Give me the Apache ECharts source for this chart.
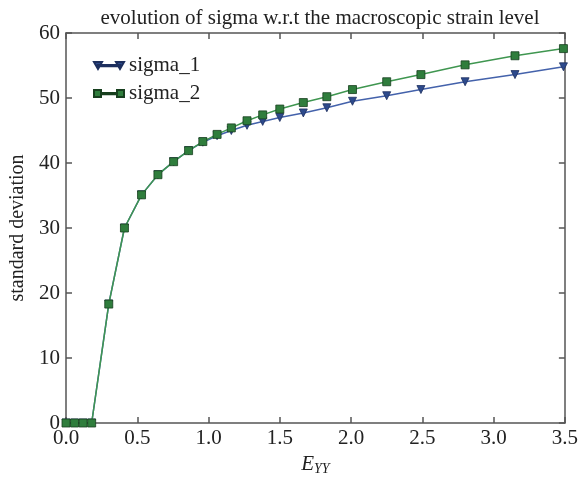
<!DOCTYPE html>
<html>
<head>
<meta charset="utf-8">
<script src="https://cdn.jsdelivr.net/npm/echarts@6/dist/echarts.min.js"></script>
<style>html,body{margin:0;padding:0;background:#fff}#c{width:581px;height:482px}</style>
</head>
<body>
<div id="c"></div>
<script>
var strain = [0.0, 0.06, 0.12, 0.18, 0.30, 0.41, 0.53, 0.645, 0.755, 0.86, 0.96, 1.06, 1.16, 1.27, 1.38, 1.50, 1.665, 1.83, 2.01, 2.25, 2.49, 2.80, 3.15, 3.49];
var sigma1 = [0, 0, 0, 0, 18.3, 30.0, 35.1, 38.2, 40.2, 41.9, 43.2, 44.2, 45.0, 45.8, 46.4, 47.0, 47.7, 48.5, 49.5, 50.35, 51.3, 52.5, 53.6, 54.8];
var sigma2 = [0, 0, 0, 0, 18.3, 30.0, 35.1, 38.2, 40.2, 41.9, 43.3, 44.4, 45.4, 46.5, 47.4, 48.3, 49.3, 50.2, 51.3, 52.5, 53.6, 55.1, 56.5, 57.6];
var seriesNames = ['sigma_1', 'sigma_2'];
var titleText = 'evolution of sigma w.r.t the macroscopic strain level';

function pairs(xs, ys) { return xs.map(function (x, i) { return [x, ys[i]]; }); }

var font = 'Liberation Serif';
var axisColor = '#555';
var chart = echarts.init(document.getElementById('c'));
var axisCommon = {
  axisLine: { show: true, onZero: false, lineStyle: { color: axisColor, width: 1.5 } },
  axisTick: { show: true, inside: true, length: 6, lineStyle: { color: axisColor, width: 1.5 } },
  splitLine: { show: false }
};
chart.setOption({
  animation: false,
  title: {
    text: titleText, left: 315, top: 3, textAlign: 'center',
    textStyle: { fontFamily: font, fontSize: 21, fontWeight: 'normal', color: '#222' }
  },
  legend: {
    left: 88, top: 50, orient: 'vertical', itemGap: 7,
    itemWidth: 30, itemHeight: 8,
    textStyle: { fontFamily: font, fontSize: 21, color: '#222' },
    data: [
      { name: seriesNames[0], icon: 'path://M0,0L8,0L4,7Z M4,3h22v1.2h-22Z M22,0L30,0L26,7Z', itemStyle: { color: '#2d4a8c' } },
      { name: seriesNames[1], icon: 'path://M0,0h7v7h-7Z M7,3h16v1.2h-16Z M23,0h7v7h-7Z', itemStyle: { color: '#2f7d3c' } }
    ]
  },
  grid: { left: 63, right: 14, top: 33, bottom: 59, containLabel: false },
  xAxis: [
    Object.assign({
      type: 'value', min: 0, max: 3.5, interval: 0.5, position: 'bottom',
      name: '{e|E}{s|YY}', nameLocation: 'middle', nameGap: 30,
      nameTextStyle: { rich: { e: { fontFamily: font, fontStyle: 'italic', fontSize: 21, color: '#222' }, s: { fontFamily: font, fontStyle: 'italic', fontSize: 14, color: '#222', verticalAlign: 'bottom', padding: [9, 0, 0, 0] } } },
      axisLabel: { fontFamily: font, fontSize: 21, color: '#222', margin: 5, formatter: function (v) { return v.toFixed(1); } }
    }, axisCommon),
    Object.assign({
      type: 'value', min: 0, max: 3.5, interval: 0.5, position: 'top',
      axisLabel: { show: false }
    }, axisCommon)
  ],
  yAxis: [
    Object.assign({
      type: 'value', min: 0, max: 60, interval: 10, position: 'left',
      name: 'standard deviation', nameLocation: 'middle', nameGap: 38,
      nameTextStyle: { fontFamily: font, fontSize: 20, color: '#222' },
      axisLabel: { fontFamily: font, fontSize: 21, color: '#222', margin: 6 }
    }, axisCommon),
    Object.assign({
      type: 'value', min: 0, max: 60, interval: 10, position: 'right',
      axisLabel: { show: false }
    }, axisCommon)
  ],
  series: [
    {
      name: seriesNames[0], type: 'line', data: pairs(strain, sigma1),
      symbol: 'triangle', symbolRotate: 180, symbolSize: 8, z: 2,
      lineStyle: { color: '#4462ab', width: 1.5 },
      itemStyle: { color: '#2d4a8c', borderColor: '#1d2f5e', borderWidth: 0.8 }
    },
    {
      name: seriesNames[1], type: 'line', data: pairs(strain, sigma2),
      symbol: 'rect', symbolSize: 8, z: 3,
      lineStyle: { color: '#3f9650', width: 1.5 },
      itemStyle: { color: '#2f7d3c', borderColor: '#173f1e', borderWidth: 0.8 }
    }
  ]
});
</script>
</body>
</html>
